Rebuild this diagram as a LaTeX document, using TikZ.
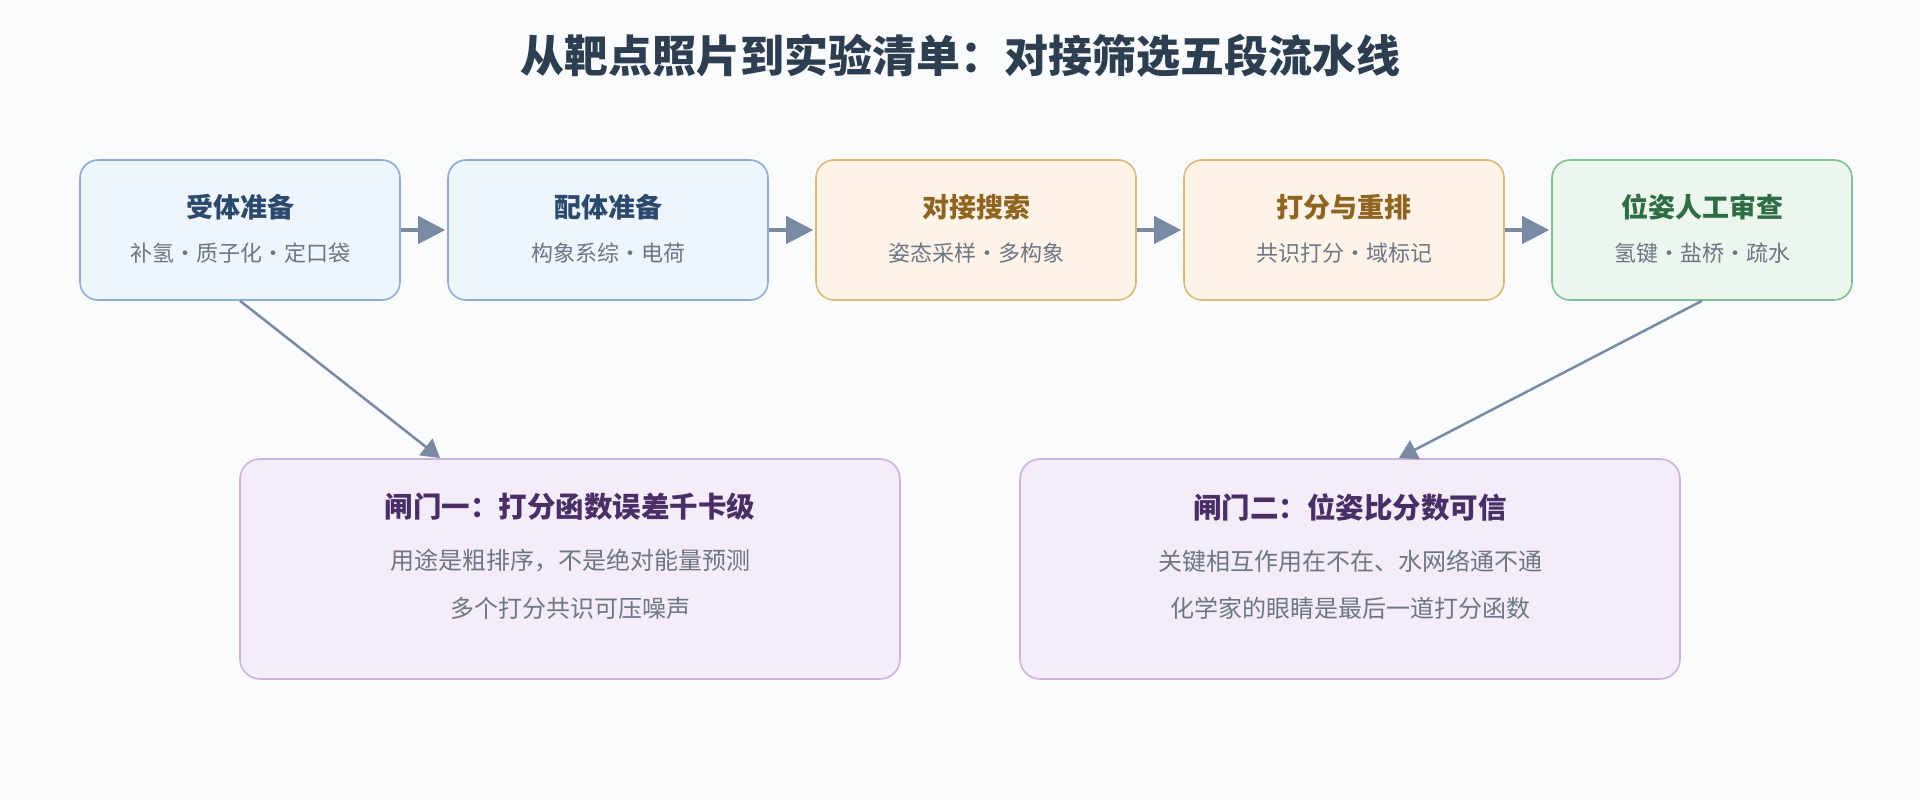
\documentclass[tikz,border=0pt]{standalone}
\usepackage{fontspec}
\setmainfont{Noto Sans CJK SC}
\usetikzlibrary{arrows.meta}

\definecolor{bgpage}{HTML}{F9FBFD}
\definecolor{titleink}{HTML}{2C3E50}
\definecolor{subink}{HTML}{6B7686}
\definecolor{arrowink}{HTML}{7A8AA2}
\definecolor{bluefill}{HTML}{EEF5FC}
\definecolor{blueline}{HTML}{8CAED6}
\definecolor{blueink}{HTML}{2C4A6E}
\definecolor{orangefill}{HTML}{FEF3E6}
\definecolor{orangeline}{HTML}{DDB878}
\definecolor{orangeink}{HTML}{8E6420}
\definecolor{greenfill}{HTML}{ECF6EC}
\definecolor{greenline}{HTML}{82BF94}
\definecolor{greenink}{HTML}{2F6E45}
\definecolor{purplefill}{HTML}{F4ECF8}
\definecolor{purpleline}{HTML}{CDB4DE}
\definecolor{purpleink}{HTML}{4A2F66}

\tikzset{
	stagebox/.style={rectangle, rounded corners=18pt, line width=1.6pt, minimum width=320pt, minimum height=140pt, inner sep=0pt},
	gatebox/.style={rectangle, rounded corners=20pt, line width=1.6pt, fill=purplefill, draw=purpleline, minimum width=660pt, minimum height=220pt, inner sep=0pt},
	stagetitle/.style={font=\fontsize{27}{31}\selectfont\bfseries, inner sep=0pt},
	stagesub/.style={font=\fontsize{22}{26}\selectfont, text=subink, inner sep=0pt},
	gatetitle/.style={font=\fontsize{28.5}{32}\selectfont\bfseries, text=purpleink, inner sep=0pt},
	gatesub/.style={font=\fontsize{24}{28}\selectfont, text=subink, inner sep=0pt},
	flow/.style={draw=arrowink, line width=4.5pt, -{Triangle[length=27pt, width=27pt]}, shorten >=2pt},
	feed/.style={draw=arrowink, line width=2.5pt, -{Triangle[length=18pt, width=21pt]}}
}

\begin{document}
\begin{tikzpicture}[x=1pt, y=-1pt]
	\fill[bgpage] (0,0) rectangle (1920,800);
	\useasboundingbox (0,0) rectangle (1920,800);

	\node[font=\fontsize{44}{50}\selectfont\bfseries, text=titleink] (title) at (960,56) {从靶点照片到实验清单：对接筛选五段流水线};

	% five stages
	\node[stagebox, fill=bluefill, draw=blueline] (s1) at (240,230) {};
	\node[stagebox, fill=bluefill, draw=blueline] (s2) at (608,230) {};
	\node[stagebox, fill=orangefill, draw=orangeline] (s3) at (976,230) {};
	\node[stagebox, fill=orangefill, draw=orangeline] (s4) at (1344,230) {};
	\node[stagebox, fill=greenfill, draw=greenline, minimum width=300pt] (s5) at (1702,230) {};

	\node[stagetitle, text=blueink] (s1t) at (240,207) {受体准备};
	\node[stagesub] (s1s) at (240,253) {补氢·质子化·定口袋};
	\node[stagetitle, text=blueink] (s2t) at (608,207) {配体准备};
	\node[stagesub] (s2s) at (608,253) {构象系综·电荷};
	\node[stagetitle, text=orangeink] (s3t) at (976,207) {对接搜索};
	\node[stagesub] (s3s) at (976,253) {姿态采样·多构象};
	\node[stagetitle, text=orangeink] (s4t) at (1344,207) {打分与重排};
	\node[stagesub] (s4s) at (1344,253) {共识打分·域标记};
	\node[stagetitle, text=greenink] (s5t) at (1702,207) {位姿人工审查};
	\node[stagesub] (s5s) at (1702,253) {氢键·盐桥·疏水};

	\draw[flow] (s1) -- (s2);
	\draw[flow] (s2) -- (s3);
	\draw[flow] (s3) -- (s4);
	\draw[flow] (s4) -- (s5);

	% two gates
	\node[gatebox] (g1) at (570,569) {};
	\node[gatebox] (g2) at (1350,569) {};

	\node[gatetitle] (g1t) at (570,507) {闸门一：打分函数误差千卡级};
	\node[gatesub] (g1a) at (570,561) {用途是粗排序，不是绝对能量预测};
	\node[gatesub] (g1b) at (570,608) {多个打分共识可压噪声};
	\node[gatetitle] (g2t) at (1350,507) {闸门二：位姿比分数可信};
	\node[gatesub] (g2a) at (1350,561) {关键相互作用在不在、水网络通不通};
	\node[gatesub] (g2b) at (1350,608) {化学家的眼睛是最后一道打分函数};

	\coordinate (g1in) at (440,458);
	\coordinate (g2in) at (1399,458);
	\draw[feed] (s1.south) -- (g1in);
	\draw[feed] (s5.south) -- (g2in);
\end{tikzpicture}
\end{document}
